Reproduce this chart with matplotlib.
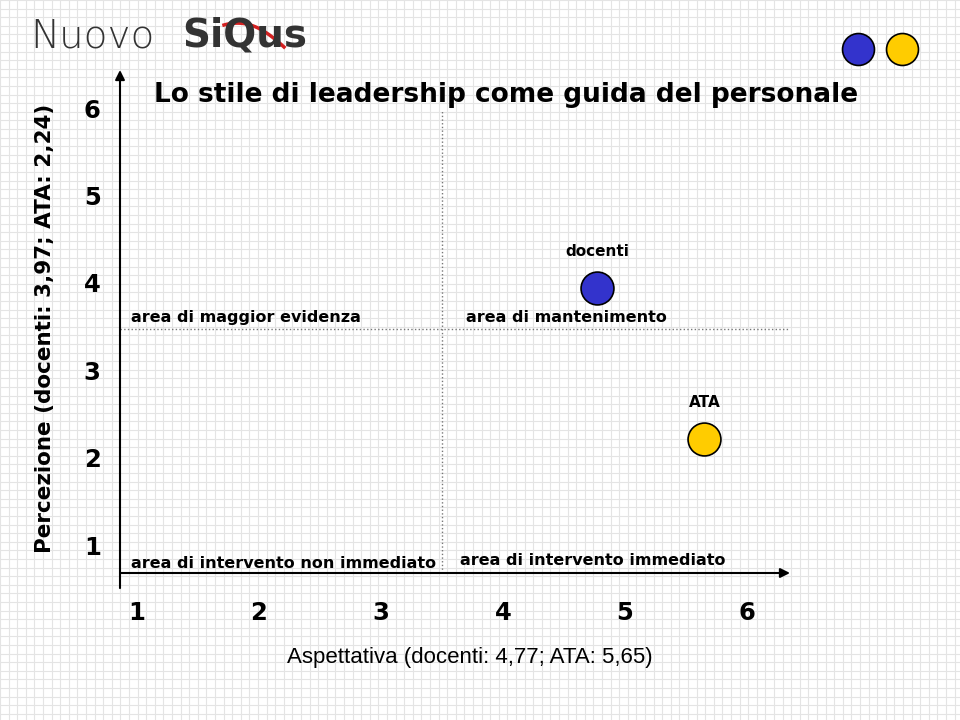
import numpy as np
import matplotlib
matplotlib.use("Agg")
from matplotlib import pyplot as plt
from matplotlib.lines import Line2D

# data
groups = ["docenti", "ATA"]
aspettativa = [4.77, 5.65]
percezione = [3.97, 2.24]
colors = ["#3333CC", "#FFCC00"]
ticks = [1, 2, 3, 4, 5, 6]
quadrant_split = 3.5

title = "Lo stile di leadership come guida del personale"
xlabel = "Aspettativa (docenti: 4,77; ATA: 5,65)"
ylabel = "Percezione (docenti: 3,97; ATA: 2,24)"

W, H = 960, 720
fig = plt.figure(figsize=(9.6, 7.2), dpi=100)

# graph paper background
bg = fig.add_axes([0, 0, 1, 1], zorder=-5)
bg.set_xlim(0, W)
bg.set_ylim(H, 0)
bg.axis("off")
for v in np.arange(0, W, 8.6):
    bg.axvline(v, color="#e4e4e4", lw=0.8)
for v in np.arange(0, H, 8.6):
    bg.axhline(v, color="#e4e4e4", lw=0.8)

# logo
fig.text(30 / W, 1 - 36 / H, "Nuovo", fontsize=28, color="#333333",
         family="DejaVu Sans", fontweight="light", va="center", ha="left")
fig.text(182 / W, 1 - 36 / H, "SiQus", fontsize=28, color="#333333",
         family="DejaVu Sans", fontweight="bold", va="center", ha="left")
tt = np.linspace(0, 1, 40)
bg.plot(224 + 60 * tt, 25 + 22 * tt ** 1.6 - 6 * np.sin(np.pi * tt), color="#d42020", lw=2.5)

# axes placed in pixel terms of the slide
left, right, top, bottom = 120, 790, 70, 573
ax = fig.add_axes([left / W, 1 - bottom / H, (right - left) / W, (bottom - top) / H])
x0, x1 = 0.861, 6.352
y0, y1 = 0.714, 6.463
ax.set_xlim(x0, x1)
ax.set_ylim(y0, y1)
ax.patch.set_alpha(0)
for s in ax.spines.values():
    s.set_visible(False)
ax.set_xticks([])
ax.set_yticks([])

# axis arrows
arrow = dict(arrowstyle="-|>", color="black", lw=1.5, mutation_scale=14, shrinkA=0, shrinkB=0)
ax.annotate("", xy=(1, 0), xycoords="axes fraction", xytext=(0, 0),
            textcoords="axes fraction", arrowprops=arrow)
ax.annotate("", xy=(0, 1), xycoords="axes fraction", xytext=(0, -0.03),
            textcoords="axes fraction", arrowprops=arrow)

# quadrant dividers
ax.plot([quadrant_split, quadrant_split], [y0, 6.0], color="#777777", lw=1, ls=":")
ax.plot([x0, x1], [quadrant_split, quadrant_split], color="#777777", lw=1, ls=":")

# tick labels, set apart from the arrows like on the slide
for t in ticks:
    ax.annotate(str(t), xy=(t, y0), xytext=(0, -29), textcoords="offset points",
                fontsize=17.5, fontweight="bold", ha="center", va="center")
    ax.annotate(str(t), xy=(x0, t), xytext=(-20, 0), textcoords="offset points",
                fontsize=17.5, fontweight="bold", ha="center", va="center")

# points
for g, x, y, c in zip(groups, aspettativa, percezione, colors):
    ax.scatter(x, y, s=560, color=c, edgecolor="black", linewidth=1.2, zorder=5)
    ax.annotate(g, xy=(x, y), xytext=(0, 21), textcoords="offset points",
                fontsize=11, fontweight="bold", ha="center", va="bottom")

# quadrant labels
ax.text(0.95, quadrant_split + 0.05, "area di maggior evidenza", fontsize=11.5, fontweight="bold",
        ha="left", va="bottom")
ax.text(quadrant_split + 0.2, quadrant_split + 0.05, "area di mantenimento", fontsize=11.5,
        fontweight="bold", ha="left", va="bottom")
ax.text(0.95, 0.74, "area di intervento non immediato", fontsize=11.5, fontweight="bold",
        ha="left", va="bottom")
ax.text(quadrant_split + 0.15, 0.77, "area di intervento immediato", fontsize=11.5,
        fontweight="bold", ha="left", va="bottom")

fig.text(506 / W, 1 - 95 / H, title, fontsize=19, fontweight="bold", ha="center", va="center")
fig.text(470 / W, 1 - 657 / H, xlabel, fontsize=16, ha="center", va="center",
         family="Liberation Sans")
fig.text(45 / W, 1 - 328 / H, ylabel, fontsize=15.5, fontweight="bold", rotation=90,
         ha="center", va="center")

# legend dots top right
handles = [Line2D([], [], marker="o", ls="", markersize=23, markerfacecolor=c,
                  markeredgecolor="black", markeredgewidth=1.2) for c in colors]
fig.legend(handles, ["", ""], ncol=2, loc="center", bbox_to_anchor=(880 / W, 1 - 50 / H),
           frameon=False, handlelength=1, handletextpad=0, columnspacing=2.2)

fig.savefig("out.png", dpi=100)
